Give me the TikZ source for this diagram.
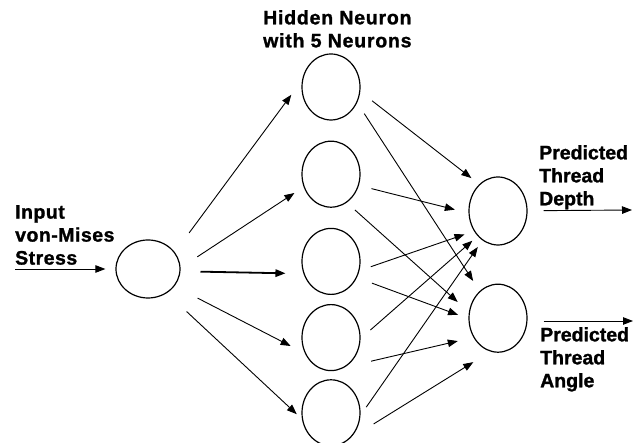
\documentclass[tikz,border=0pt]{standalone}
\usepackage{fontspec}
\setmainfont{Liberation Sans}
\newfontfamily\capfont{Liberation Sans}[BoldFeatures={FakeBold=1.3}]
\usetikzlibrary{arrows.meta,positioning,shapes.geometric}

\tikzset{
  neuron/.style={draw, ellipse, line width=1.2pt, inner sep=0pt, minimum width=58pt, minimum height=66pt},
  link/.style={-{Triangle[length=10pt,width=7.5pt]}, line width=0.9pt},
  caption/.style={font=\capfont\bfseries\fontsize{19.5}{23}\selectfont, align=left, inner sep=0pt, anchor=north west}
}

\begin{document}
\begin{tikzpicture}[x=1pt, y=1pt]
\useasboundingbox[fill=white] (0,0) rectangle (634,443);

% input layer
\node [neuron, minimum width=64pt, minimum height=58pt] (in) at (148,174) {};
\coordinate (stress) at (15,174);

% hidden layer
\node [neuron] (h1) at (331,356) {};
\node [neuron, below = 20pt of h1] (h2) {};
\node [neuron, below = 20pt of h2] (h3) {};
\node [neuron, below = 9pt of h3] (h4) {};
\node [neuron, below = 8pt of h4] (h5) {};

% output layer
\node [neuron, minimum height=68pt] (o1) at (498,232) {};
\node [neuron, minimum height=68pt, below = 38pt of o1] (o2) {};
\coordinate (depth) at (632,233);
\coordinate (angle) at (633,122);

% texts
\node [caption] (hidden-label) at (263,433) {\addfontfeatures{LetterSpace=4}Hidden Neuron\\\addfontfeatures{LetterSpace=4}with 5 Neurons};
\node [caption] (input-label) at (15,238) {\addfontfeatures{LetterSpace=2.5}Input\\\addfontfeatures{LetterSpace=2.5}von-Mises\\\addfontfeatures{LetterSpace=2.5}Stress};
\node [caption] (depth-label) at (539,298) {Predicted\\Thread\\Depth};
\node [caption] (angle-label) at (540,116) {Predicted\\Thread\\Angle};

% input -> hidden
\draw [link, shorten >=10pt] (stress) -- (in);
\draw [link, shorten <=24pt, shorten >=18pt] (in.32) -- (h1.167);
\draw [link, shorten <=20pt, shorten >=11pt] (in.2) -- (h2.205);
\draw [link, line width=1.8pt, shorten <=20pt, shorten >=18pt] (in.356) -- (h3.204);
\draw [link, shorten <=26pt, shorten >=16pt] (in.327) -- (h4.211);
\draw [link, shorten <=27pt, shorten >=7pt] (in.308) -- (h5.192);

% hidden -> output
\draw [link, shorten <=15pt, shorten >=10pt] (h1.351) -- (o1.125);
\draw [link, shorten <=13pt, shorten >=12pt] (h1.329) -- (o2.124);
\draw [link, shorten <=13pt, shorten >=14pt] (h2.338) -- (o1.184);
\draw [link, shorten <=11pt, shorten >=15pt] (h2.299) -- (o2.168);
\draw [link, shorten <=12pt, shorten >=10pt] (h3.342) -- (o1.220);
\draw [link, shorten <=16pt, shorten >=11pt] (h3.328) -- (o2.181);
\draw [link, shorten <=13pt, shorten >=7pt] (h4.358) -- (o1.231);
\draw [link, shorten <=27pt, shorten >=16pt] (h4.295) -- (o2.218);
\draw [link, shorten <=10pt, shorten >=8pt] (h5.355) -- (o1.242);
\draw [link, shorten <=28pt, shorten >=20pt] (h5.306) -- (o2.257);

% output -> predictions
\draw [link, shorten <=16pt] (o1) -- (depth);
\draw [link, shorten <=16pt] (o2.east |- angle) -- (angle);
\end{tikzpicture}
\end{document}
